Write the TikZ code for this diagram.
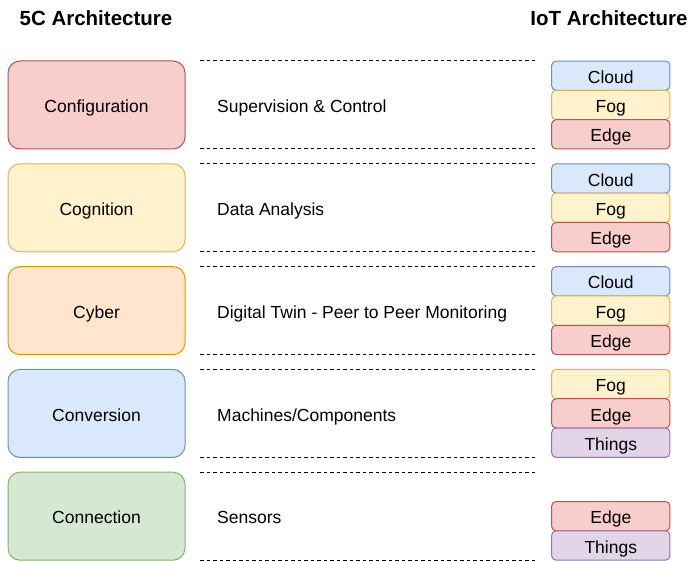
\documentclass[tikz,border=0pt]{standalone}
\usepackage{fontspec}
\setmainfont{Liberation Sans}
\definecolor{redF}{HTML}{F8CECC}\definecolor{redS}{HTML}{B85450}
\definecolor{yelF}{HTML}{FFF2CC}\definecolor{yelS}{HTML}{D6B656}
\definecolor{orgF}{HTML}{FFE6CC}\definecolor{orgS}{HTML}{D79B00}
\definecolor{bluF}{HTML}{DAE8FC}\definecolor{bluS}{HTML}{6C8EBF}
\definecolor{grnF}{HTML}{D5E8D4}\definecolor{grnS}{HTML}{82B366}
\definecolor{purF}{HTML}{E1D5E7}\definecolor{purS}{HTML}{9673A6}
\tikzset{
  bodyfont/.style={font=\fontsize{17.5}{20}\selectfont, text height=18.8pt, text depth=3.6pt},
  bigbox/.style={draw, line width=1pt, rounded corners=12pt, minimum width=177pt, minimum height=88pt, inner sep=0pt, outer sep=0pt, bodyfont},
  smallbox/.style={draw, line width=1pt, rounded corners=4.5pt, minimum width=118.3pt, minimum height=29.33pt, inner sep=0pt, outer sep=0pt, bodyfont},
  midtext/.style={anchor=west, inner sep=0pt, bodyfont},
  titletext/.style={inner sep=0pt, font=\fontsize{20.5}{24}\selectfont\bfseries},
  dashline/.style={line width=1pt, dash pattern=on 3.5pt off 3pt},
  cloudbox/.style={smallbox, fill=bluF, draw=bluS},
  fogbox/.style={smallbox, fill=yelF, draw=yelS},
  edgebox/.style={smallbox, fill=redF, draw=redS},
  thingsbox/.style={smallbox, fill=purF, draw=purS}
}
\begin{document}
\begin{tikzpicture}[x=1pt,y=-1pt]
\useasboundingbox (0,0) rectangle (690,561);
\node[titletext] (t5c) at (96,18) {5C Architecture};
\node[titletext] (tiot) at (609,18) {IoT Architecture};

% left boxes
\node[bigbox, fill=redF, draw=redS] (L1) at (96.5,105) {Configuration};
\node[bigbox, fill=yelF, draw=yelS] (L2) at (96.5,207.8) {Cognition};
\node[bigbox, fill=orgF, draw=orgS] (L3) at (96.5,310.6) {Cyber};
\node[bigbox, fill=bluF, draw=bluS] (L4) at (96.5,413.4) {Conversion};
\node[bigbox, fill=grnF, draw=grnS] (L5) at (96.5,516.2) {Connection};

% middle texts
\node[midtext] (M1) at (217,105) {Supervision \& Control};
\node[midtext] (M2) at (217,207.8) {Data Analysis};
\node[midtext] (M3) at (217,310.6) {Digital Twin - Peer to Peer Monitoring};
\node[midtext] (M4) at (217,413.4) {Machines/Components};
\node[midtext] (M5) at (217,516.2) {Sensors};

% dashed separators
\foreach \i/\t in {1/61,2/163.8,3/266.6,4/369.4,5/472.2}{
  \coordinate (a\i) at (200,\t);
  \coordinate (b\i) at (537,\t);
  \coordinate (c\i) at (200,\t+88);
  \coordinate (d\i) at (537,\t+88);
  \draw[dashline] (a\i) -- (b\i);
  \draw[dashline] (c\i) -- (d\i);
}

% right stacks
\node[cloudbox] (R1a) at (610.8,75.67) {Cloud};
\node[fogbox] (R1b) at (610.8,105) {Fog};
\node[edgebox] (R1c) at (610.8,134.33) {Edge};

\node[cloudbox] (R2a) at (610.8,178.47) {Cloud};
\node[fogbox] (R2b) at (610.8,207.8) {Fog};
\node[edgebox] (R2c) at (610.8,237.13) {Edge};

\node[cloudbox] (R3a) at (610.8,281.27) {Cloud};
\node[fogbox] (R3b) at (610.8,310.6) {Fog};
\node[edgebox] (R3c) at (610.8,339.93) {Edge};

\node[fogbox] (R4a) at (610.8,384.07) {Fog};
\node[edgebox] (R4b) at (610.8,413.4) {Edge};
\node[thingsbox] (R4c) at (610.8,442.73) {Things};

\node[edgebox] (R5b) at (610.8,516.2) {Edge};
\node[thingsbox] (R5c) at (610.8,545.53) {Things};
\end{tikzpicture}
\end{document}
